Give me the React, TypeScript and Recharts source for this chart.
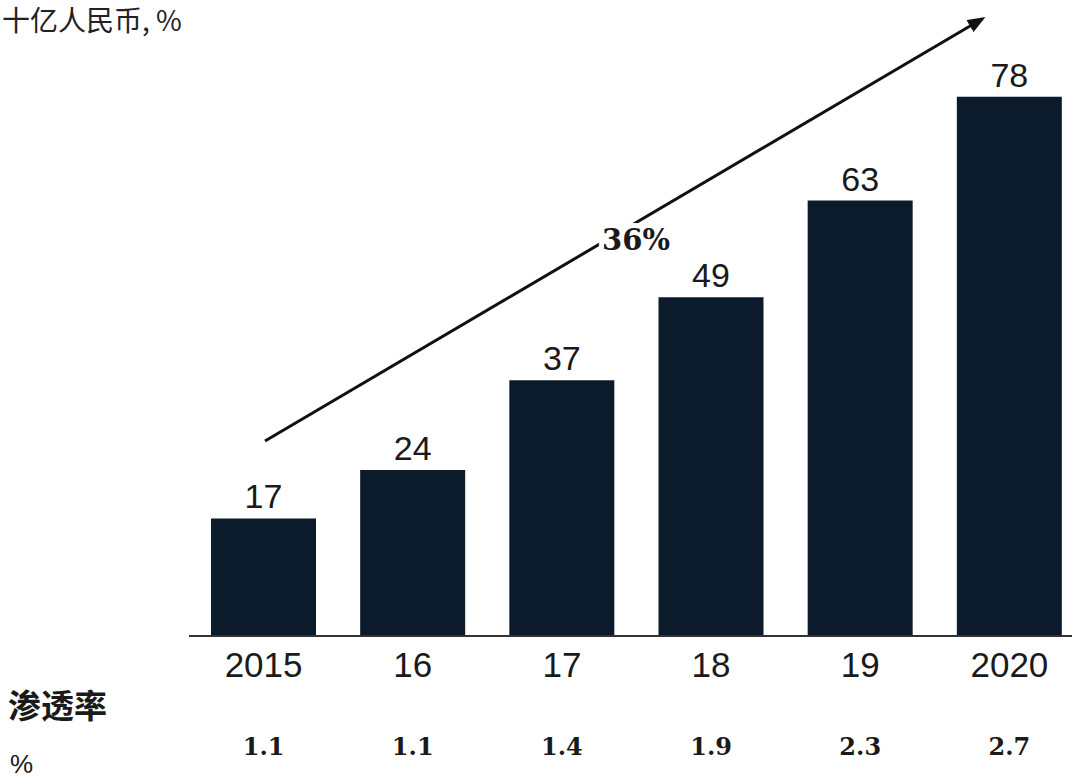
import React from "react";
import { BarChart, Bar, XAxis, YAxis, LabelList } from "recharts";

const categories = ["2015", "16", "17", "18", "19", "2020"];
const marketSize = [17, 24, 37, 49, 63, 78];
const penetration = ["1.1", "1.1", "1.4", "1.9", "2.3", "2.7"];
const unitLabel = "十亿人民币, %";
const rowLabel = "渗透率";
const rowUnit = "%";
const cagrLabel = "36%";

const data = categories.map((c, i) => ({ year: c, value: marketSize[i], pen: penetration[i] }));

const BAR_COLOR = "#0b1b2b";

const PenTick = (props: any) => {
  const { x, y, payload } = props;
  return (
    <text x={x} y={y} textAnchor="middle" dy={57} fontFamily="'DejaVu Serif', serif" fontWeight="bold" fontSize={24} fill="#1a1a1a">
      {payload.value}
    </text>
  );
};

export default function App() {
  return (
    <div style={{ position: "absolute", left: 0, top: 0, width: 1072, height: 780, overflow: "hidden", background: "#fff" }}>
      <BarChart
        width={1084}
        height={780}
        data={data}
        margin={{ top: 83, right: 0, left: 189, bottom: 24 }}
        barCategoryGap={22}
      >
        <YAxis hide domain={[0, 80]} />
        <XAxis
          dataKey="year"
          xAxisId={0}
          height={60}
          axisLine={{ stroke: "#333", strokeWidth: 2 }}
          tickLine={false}
          tickSize={0}
          tickMargin={16}
          tick={{ fill: "#1a1a1a", fontSize: 35, fontFamily: "Arial, 'Liberation Sans', sans-serif" }}
        />
        <XAxis
          dataKey="pen"
          xAxisId="pen"
          height={60}
          axisLine={false}
          tickLine={false}
          tickSize={0}
          tick={<PenTick />}
        />
        <Bar dataKey="value" fill={BAR_COLOR} isAnimationActive={false} xAxisId={0}>
          <LabelList
            dataKey="value"
            position="top"
            offset={10}
            style={{ fill: "#1a1a1a", fontSize: 34, fontFamily: "Arial, 'Liberation Sans', sans-serif" }}
          />
        </Bar>
      </BarChart>
      <svg width={1072} height={780} style={{ position: "absolute", left: 0, top: 0, pointerEvents: "none" }}>
        <defs>
          <marker id="arrowHead" markerWidth="18" markerHeight="14" refX="14" refY="7" orient="auto" markerUnits="userSpaceOnUse">
            <path d="M0,0 L18,7 L0,14 z" fill="#111" />
          </marker>
        </defs>
        <line x1={265} y1={441} x2={982} y2={19} stroke="#111" strokeWidth={3} markerEnd="url(#arrowHead)" />
        <text
          x={636}
          y={250}
          textAnchor="middle"
          fontFamily="'DejaVu Serif', serif"
          fontWeight="bold"
          fontSize={29}
          fill="#1a1a1a"
          stroke="#fff"
          strokeWidth={10}
          paintOrder="stroke"
        >
          {cagrLabel}
        </text>
        <text x={2} y={31} fontFamily="'Noto Sans CJK SC', serif" fontSize={28} fill="#222">
          {unitLabel}
        </text>
        <text x={8} y={718} fontFamily="'Noto Sans CJK SC', serif" fontWeight="bold" fontSize={33} fill="#1a1a1a">
          {rowLabel}
        </text>
        <text x={10} y={773} fontFamily="Arial, 'Liberation Sans', sans-serif" fontSize={26} fill="#1a1a1a">
          {rowUnit}
        </text>
      </svg>
    </div>
  );
}
